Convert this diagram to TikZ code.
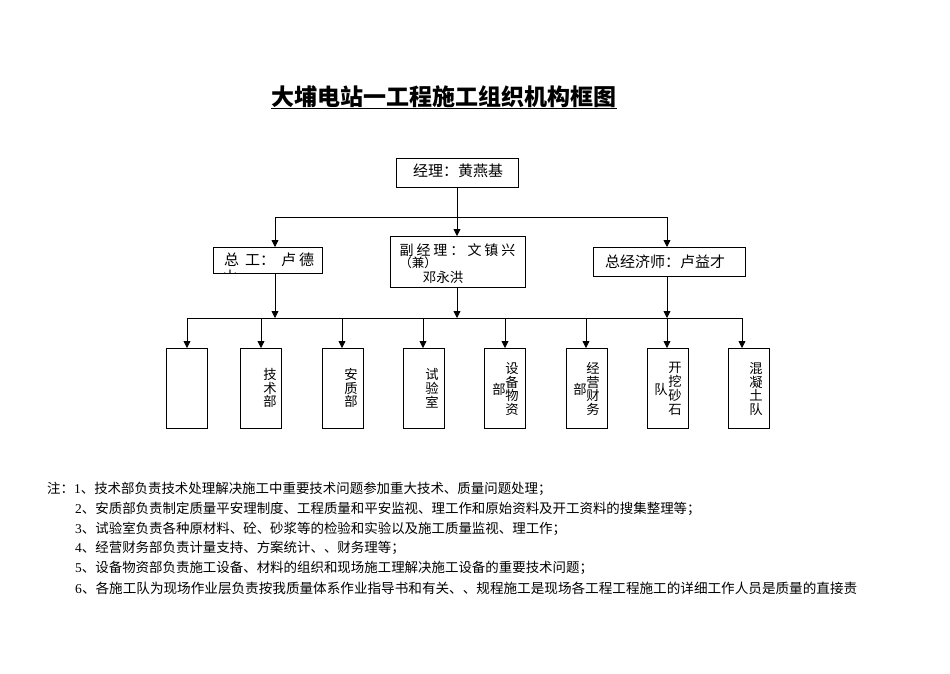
\documentclass[tikz,border=0pt]{standalone}
\usepackage{fontspec}
\setmainfont{Liberation Serif}
\newfontfamily\cjk{Noto Sans CJK SC}
\usetikzlibrary{arrows.meta}
\begin{document}
\begin{tikzpicture}[x=1pt,y=-1pt]
\tikzset{
 ln/.style={line width=0.8pt},
 arr/.style={ln,-{Triangle[width=7pt,length=7pt]}},
 bx/.style={draw,line width=0.8pt,inner sep=0pt,outer sep=0pt},
 txt/.style={font=\cjk\fontsize{15}{18}\selectfont,inner sep=0pt},
 vtxt/.style={font=\cjk\fontsize{13.3}{13.8}\selectfont,inner sep=0pt,align=center},
 note/.style={font=\cjk\fontsize{13.45}{16}\selectfont,inner sep=0pt,anchor=west},
 notesix/.style={font=\cjk\fontsize{13.6}{16}\selectfont,inner sep=0pt,anchor=west},
 ttl/.style={font=\cjk\bfseries\fontsize{23}{26}\selectfont,inner sep=0pt},
}
\useasboundingbox[fill=white] (0,0) rectangle (950,673);

% title
\node[ttl] (title) at (444,97) {大埔电站一工程施工组织机构框图};
\draw[line width=1.3pt] (title.south west) -- (title.south east);

% top level boxes
\node[bx,minimum width=122pt,minimum height=29pt] (mgr) at (457,172.5) {};
\node[txt] (mgrt) at (458,171) {经理：黄燕基};

\node[bx,minimum width=109pt,minimum height=26pt] (zg) at (267.5,260) {};
\node[txt] (zgt) at (269,260) {总\hspace{6pt}工：\hspace{6pt}卢\hspace{3pt}德};
\begin{scope}
 \clip (zg.south west) rectangle (zg.north east);
 \node[txt] (zgx) at (230,277) {山};
\end{scope}

\node[bx,minimum width=135pt,minimum height=51pt] (fjl) at (457.5,261.5) {};
\node[font=\cjk\fontsize{14}{16}\selectfont,inner sep=0pt] (fjl1) at (457.5,250)
 {副\hspace{3pt}经\hspace{3pt}理\hspace{3pt}：\hspace{3pt}文\hspace{3pt}镇\hspace{3pt}兴};
\node[font=\cjk\fontsize{12.5}{14}\selectfont,inner sep=0pt] (fjl2) at (418,263) {（兼）};
\node[font=\cjk\fontsize{13.5}{15}\selectfont,inner sep=0pt] (fjl3) at (443,277) {邓永洪};

\node[bx,minimum width=152pt,minimum height=29pt] (zjjs) at (669,261.5) {};
\node[txt] (zjjst) at (665,262) {总经济师：卢益才};

% upper connectors
\coordinate (jl) at (275,217);
\coordinate (jr) at (667,217);
\draw[ln] (jl) -- (jr);
\draw[arr] (mgr.south) -- (mgr.south |- fjl.north);
\draw[arr] (jl) -- (jl |- zg.north);
\draw[arr] (jr) -- (jr |- zjjs.north);

% bottom boxes
\foreach \i/\x in {1/187,2/260.5,3/342.5,4/423.5,5/504.5,6/586.5,7/667.5,8/749}{
  \node[bx,minimum width=41pt,minimum height=80pt] (b\i) at (\x,388) {};
}

% bus
\coordinate (k1) at (187,318);
\coordinate (k2) at (261,318);
\coordinate (k3) at (342,318);
\coordinate (k4) at (423,318);
\coordinate (k5) at (505,318);
\coordinate (k6) at (586,318);
\coordinate (k7) at (667,318);
\coordinate (k8) at (742,318);
\draw[ln] (k1) -- (k8);
\draw[arr] (jl |- zg.south) -- (jl |- k1);
\draw[arr] (mgr.south |- fjl.south) -- (mgr.south |- k1);
\draw[arr] (jr |- zjjs.south) -- (jr |- k1);
\foreach \i in {1,...,8}{
  \draw[arr] (k\i) -- (k\i |- b\i.north);
}

% vertical texts
\node[vtxt] (t2) at (270,388) {技\\术\\部};
\node[vtxt] (t3) at (351,388) {安\\质\\部};
\node[vtxt] (t4) at (432,388) {试\\验\\室};
\node[vtxt] (t5) at (512,389) {设\\备\\物\\资};
\node[vtxt] (t5b) at (499,389) {部};
\node[vtxt] (t6) at (593,389) {经\\营\\财\\务};
\node[vtxt] (t6b) at (580,389) {部};
\node[vtxt] (t7) at (675,389) {开\\挖\\砂\\石};
\node[vtxt] (t7b) at (661,389) {队};
\node[vtxt] (t8) at (756,389) {混\\凝\\土\\队};

% notes
\node[note] (n1) at (47,489) {注：{\rmfamily 1}、技术部负责技术处理解决施工中重要技术问题参加重大技术、质量问题处理；};
\node[note] (n2) at (75,509) {{\rmfamily 2}、安质部负责制定质量平安理制度、工程质量和平安监视、理工作和原始资料及开工资料的搜集整理等；};
\node[note] (n3) at (75,529) {{\rmfamily 3}、试验室负责各种原材料、砼、砂浆等的检验和实验以及施工质量监视、理工作；};
\node[note] (n4) at (75,548) {{\rmfamily 4}、经营财务部负责计量支持、方案统计、、财务理等；};
\node[note] (n5) at (75,568) {{\rmfamily 5}、设备物资部负责施工设备、材料的组织和现场施工理解决施工设备的重要技术问题；};
\node[notesix] (n6) at (75,588) {{\rmfamily 6}、各施工队为现场作业层负责按我质量体系作业指导书和有关、、规程施工是现场各工程工程施工的详细工作人员是质量的直接责};
\end{tikzpicture}
\end{document}
